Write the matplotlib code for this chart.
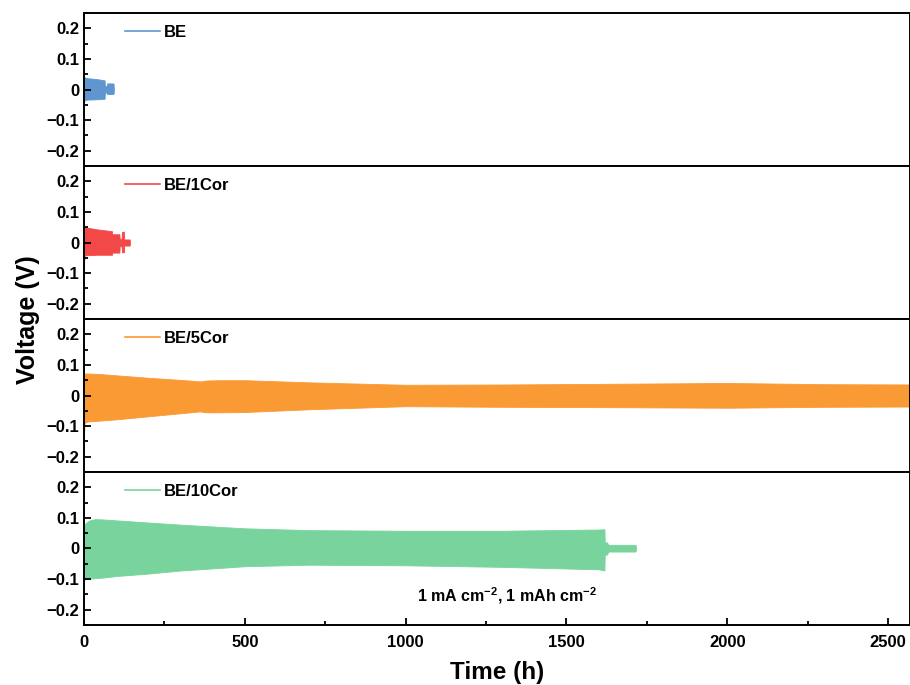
import matplotlib
matplotlib.use("Agg")
import matplotlib.pyplot as plt
from matplotlib.ticker import MultipleLocator, FuncFormatter

plt.rcParams['font.family'] = ['Liberation Sans', 'DejaVu Sans']
plt.rcParams['font.weight'] = 'bold'
plt.rcParams['mathtext.fontset'] = 'custom'
plt.rcParams['mathtext.rm'] = 'Liberation Sans:bold'
plt.rcParams['mathtext.bf'] = 'Liberation Sans:bold'
plt.rcParams['mathtext.default'] = 'bf'

# -- envelope of the voltage oscillation, time in h
be_t = [0, 0.5, 2, 10, 40, 64, 65, 71, 72, 90, 92, 93]
be_up = [0.0, 0.04, 0.04, 0.037, 0.034, 0.03, 0.012, 0.012, 0.02, 0.02, 0.018, 0.0]
be_lo = [-0.05, -0.04, -0.035, -0.033, -0.032, -0.03, -0.01, -0.01, -0.015, -0.015, -0.013, 0.0]

c1_t = [0, 0.5, 2, 40, 87, 88, 110, 111, 117, 118, 124, 125, 142, 143]
c1_up = [0.0, 0.05, 0.05, 0.043, 0.037, 0.027, 0.027, 0.012, 0.012, 0.035, 0.035, 0.01, 0.01, 0.0]
c1_lo = [-0.11, -0.06, -0.042, -0.04, -0.04, -0.033, -0.033, -0.012, -0.012, -0.032, -0.032, -0.01, -0.01, 0.0]

c5_t = [0, 2, 10, 50, 100, 200, 300, 340, 360, 380, 420, 500, 700, 1000, 1300, 1600, 2000, 2300, 2600]
c5_up = [0.07, 0.072, 0.072, 0.07, 0.066, 0.058, 0.051, 0.048, 0.046, 0.049, 0.05, 0.05, 0.043, 0.035, 0.036, 0.038, 0.041, 0.037, 0.036]
c5_lo = [-0.13, -0.09, -0.085, -0.082, -0.078, -0.068, -0.058, -0.054, -0.052, -0.055, -0.055, -0.054, -0.045, -0.035, -0.037, -0.038, -0.04, -0.037, -0.036]

c10_t = [0, 2, 8, 20, 35, 60, 100, 200, 300, 500, 700, 1000, 1300, 1600, 1618, 1619, 1626, 1630, 1715, 1716]
c10_up = [0.075, 0.078, 0.086, 0.093, 0.096, 0.095, 0.092, 0.085, 0.078, 0.066, 0.06, 0.058, 0.058, 0.062, 0.063, 0.02, 0.02, 0.012, 0.012, 0.0]
c10_lo = [-0.11, -0.1, -0.1, -0.098, -0.097, -0.095, -0.09, -0.082, -0.072, -0.058, -0.053, -0.055, -0.06, -0.068, -0.072, -0.02, -0.02, -0.01, -0.01, 0.0]

labels = ['BE', 'BE/1Cor', 'BE/5Cor', 'BE/10Cor']
colors = ['#5f96cf', '#f24848', '#fa9a35', '#78d49c']
series = [(be_t, be_up, be_lo), (c1_t, c1_up, c1_lo),
          (c5_t, c5_up, c5_lo), (c10_t, c10_up, c10_lo)]

fig, axes = plt.subplots(4, 1, figsize=(9.1, 6.85), dpi=100, sharex=True)
fig.subplots_adjust(left=0.0923, right=1.0, top=0.981, bottom=0.0876, hspace=0)


def ytick(v, pos):
    if abs(v) < 1e-9:
        return '0'
    return f'{v:.1f}'.replace('-', '\u2212')


for ax, (t, up, lo), lab, col in zip(axes, series, labels, colors):
    ax.fill_between(t, lo, up, color=col, linewidth=0.6, edgecolor=col)
    ax.plot([], [], color=col, lw=1.2, label=lab)
    ax.set_ylim(-0.25, 0.25)
    ax.set_xlim(0, 2568)
    ax.yaxis.set_major_locator(MultipleLocator(0.1))
    ax.yaxis.set_minor_locator(MultipleLocator(0.05))
    ax.yaxis.set_major_formatter(FuncFormatter(ytick))
    ax.xaxis.set_major_locator(MultipleLocator(500))
    ax.xaxis.set_minor_locator(MultipleLocator(250))
    ax.tick_params(which='both', direction='in', labelsize=12, width=1.3)
    ax.tick_params(which='major', length=5)
    ax.tick_params(which='minor', length=3)
    ax.tick_params(axis='x', pad=7)
    for s in ax.spines.values():
        s.set_linewidth(1.4)
    ax.legend(loc='upper left', frameon=False, fontsize=12, handlelength=2.1,
              handletextpad=0.2, borderaxespad=0.3, bbox_to_anchor=(0.036, 1.0))
    for tl in ax.get_yticklabels():
        tl.set_fontweight('bold')

for ax in axes[:-1]:
    ax.tick_params(axis='x', which='both', bottom=False, labelbottom=False)

axes[-1].set_xlabel('Time (h)', fontsize=17.5, fontweight='bold', labelpad=8)
for tl in axes[-1].get_xticklabels():
    tl.set_fontweight('bold')
fig.text(0.031, 0.534, 'Voltage (V)', rotation=90, fontsize=18,
         fontweight='bold', ha='center', va='center')
axes[-1].text(1314, -0.153, r'1 mA cm$^{-2}$, 1 mAh cm$^{-2}$', fontsize=11.5,
              fontweight='bold', ha='center', va='center')

fig.savefig('out.png', dpi=100)
